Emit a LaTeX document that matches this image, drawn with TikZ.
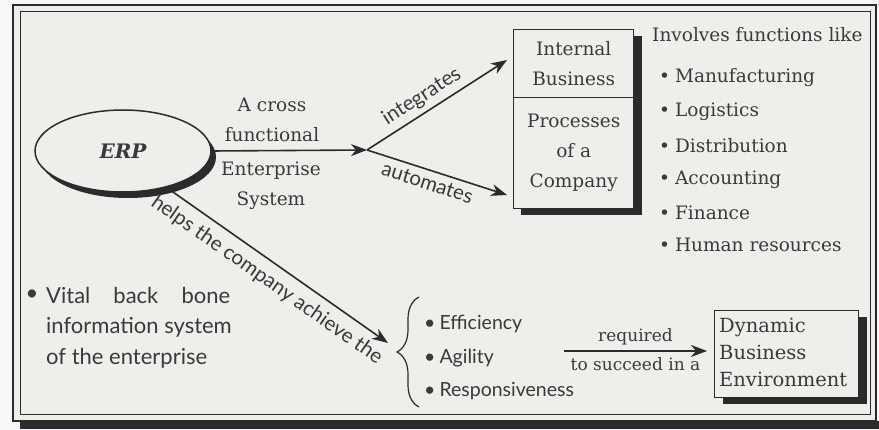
\documentclass[tikz,border=0pt]{standalone}
\usepackage{fontspec}
\setmainfont{DejaVu Serif}
\newfontfamily\labelsans{Lato}
\usetikzlibrary{shapes.geometric,arrows.meta,decorations.pathreplacing}

\definecolor{paper}{HTML}{EFEEEA}
\definecolor{outside}{HTML}{F7F7F5}
\definecolor{ink}{HTML}{3A3A3A}
\definecolor{rule}{HTML}{2B2B2B}

\tikzset{
  conn/.style={draw=rule, line width=1.6pt,
    -{Stealth[length=16pt,width=12pt,inset=5pt]}},
  serif/.style={text=ink, font=\fontsize{18.5}{30}\selectfont},
  small serif/.style={text=ink, font=\fontsize{17}{20}\selectfont},
  sanslabel/.style={text=ink, font=\labelsans\fontsize{20.5}{24}\selectfont},
  sansgoal/.style={text=ink, font=\labelsans\fontsize{19.5}{24}\selectfont},
  sansbig/.style={text=ink, font=\labelsans\fontsize{22}{26}\selectfont},
  procbox/.style={draw=rule, line width=1.4pt, fill=paper, inner sep=0pt,
    align=center, serif},
  listitem/.style={anchor=west, serif, inner sep=0pt},
}

\begin{document}
\begin{tikzpicture}[x=1pt,y=-1pt]
\useasboundingbox (0,0) rectangle (879,430);
\fill[outside] (0,0) rectangle (879,430);

% page frame with its heavy shadow along the foot
\fill[rule] (20,421) rectangle (879,429);
\fill[paper] (13,5) rectangle (876,421);
\draw[rule, line width=2.2pt] (13,5) rectangle (876,421);
\draw[rule, line width=1pt] (20,12) rectangle (870,415);

% ERP ellipse with drop shadow
\fill[rule] (128,157) ellipse [x radius=88, y radius=41];
\node[draw=rule, line width=1.5pt, fill=paper, ellipse, inner sep=0pt,
      minimum width=176pt, minimum height=82pt, text=ink,
      font=\fontsize{20}{24}\selectfont\bfseries\itshape] (erp) at (123,151) {ERP};

% business process box
\fill[rule] (521,36) rectangle (642,215);
\node[procbox, minimum width=120pt, minimum height=68pt, anchor=north west]
  (ib) at (513,29) {Internal\\Business};
\node[procbox, minimum width=120pt, minimum height=111pt, anchor=north west]
  (pc) at (513,97) {Processes\\of a\\Company};

% dynamic environment box
\fill[rule] (723,317) rectangle (867,404);
\node[draw=rule, line width=1.4pt, fill=paper, inner sep=0pt,
      minimum width=144pt, minimum height=87pt, anchor=north west] (dbe) at (714,310) {};
\node[anchor=west, align=left, text=ink, inner sep=0pt,
      font=\fontsize{19.5}{27}\selectfont] (dbet) at (719,352)
  {Dynamic\\Business\\Environment};

% cross-functional system arrow and its branches
\coordinate (J) at (367,150);
\coordinate (itip) at (507,60);
\coordinate (atip) at (507,195);
\draw[conn] (erp.east) -- (J);
\node[serif, align=center] (cross) at (272,120) {A cross\\functional};
\node[serif, align=center] (ent) at (271,186) {Enterprise\\System};
\draw[conn] (J) -- node[sloped, above, pos=0.45, sanslabel, inner sep=5pt] (intl) {integrates} (itip);
\draw[conn] (J) -- node[sloped, below, pos=0.46, sanslabel, inner sep=5pt] (autl) {automates} (atip);

% functions list
\node[listitem] (inv) at (652,35) {Involves functions like};
\node[listitem] (f1) at (659,78) {\textbullet\hspace{5pt}Manufacturing};
\node[listitem] (f2) at (659,112) {\textbullet\hspace{5pt}Logistics};
\node[listitem] (f3) at (659,146) {\textbullet\hspace{5pt}Distribution};
\node[listitem] (f4) at (659,180) {\textbullet\hspace{5pt}Accounting};
\node[listitem] (f5) at (659,213) {\textbullet\hspace{5pt}Finance};
\node[listitem] (f6) at (659,245) {\textbullet\hspace{5pt}Human resources};

% goals reached through ERP
\coordinate (htip) at (388,343);
\draw[conn] (erp.-40) -- node[sloped, below, midway, sanslabel, inner sep=8pt] (helps)
  {helps the company achieve the} (htip);
\draw[rule, line width=1.2pt, decorate,
      decoration={brace, amplitude=22pt, aspect=0.5}] (419,407) -- (419,297);
\node[sansgoal, anchor=west, inner sep=0pt] (g1) at (424,324) {\textbullet\hspace{4pt}Efficiency};
\node[sansgoal, anchor=west, inner sep=0pt] (g2) at (424,358) {\textbullet\hspace{4pt}Agility};
\node[sansgoal, anchor=west, inner sep=0pt] (g3) at (424,391) {\textbullet\hspace{4pt}Responsiveness};

\coordinate (rq) at (564,351);
\coordinate (rtip) at (707,351);
\draw[conn] (rq) -- node[above, small serif, inner sep=5pt] (req) {required}
  node[below, small serif, inner sep=6pt] (succ) {to succeed in a} (rtip);

% backbone note
\node[sansbig, anchor=center, inner sep=0pt] (vb) at (32,295) {\textbullet};
\node[sansbig, anchor=west, inner sep=0pt] (v1) at (46,295) {\makebox[184pt][s]{Vital back bone}};
\node[sansbig, anchor=west, inner sep=0pt] (v2) at (46,327) {information system};
\node[sansbig, anchor=west, inner sep=0pt] (v3) at (46,358) {of the enterprise};
\end{tikzpicture}
\end{document}
